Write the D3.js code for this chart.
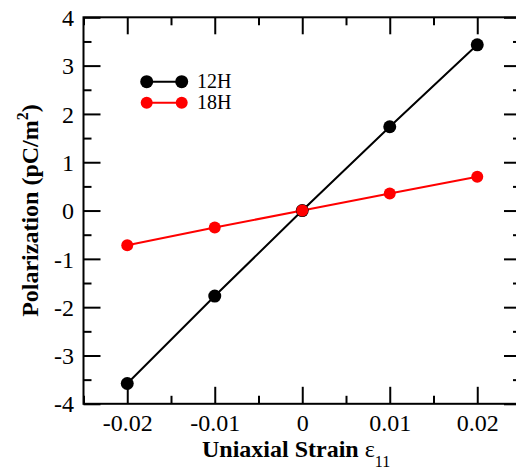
<html><head>
<script src="https://d3js.org/d3.v7.min.js"></script>
<style>
  body { margin: 0; background: #fff; }
  svg { font-family: "Liberation Serif", "Times New Roman", serif; }
  .axis .domain { stroke: none; }
  .axis line { stroke: #000; stroke-width: 2; }
  .axis text { font-family: "Liberation Serif", "Times New Roman", serif; font-size: 24px; fill: #000; }
</style>
</head>
<body>
<svg id="chart" width="516" height="470"></svg>
<script>
// data
const strain = [-0.02, -0.01, 0, 0.01, 0.02];
const pol12H = [-3.58, -1.77, 0, 1.735, 3.43];
const pol18H = [-0.72, -0.35, 0, 0.355, 0.70];
const seriesNames = ["12H", "18H"];
const seriesColors = ["#000000", "#ff0000"];
const xTicks = [-0.02, -0.01, 0, 0.01, 0.02];
const xMinor = [-0.025, -0.015, -0.005, 0.005, 0.015, 0.025];
const yTicks = [-4, -3, -2, -1, 0, 1, 2, 3, 4];
const yMinor = [-3.5, -2.5, -1.5, -0.5, 0.5, 1.5, 2.5, 3.5];

const svg = d3.select("#chart");
const margins = {"top": 17.3, "left": 83.5};
const chartWidth = 437.5;
const chartHeight = 386.5;

const x = d3.scaleLinear().domain([-0.025, 0.025]).range([0, chartWidth]);
const y = d3.scaleLinear().domain([-4, 4]).range([chartHeight, 0]);

let g = svg.append("g").attr("transform", "translate(" + margins.left + "," + margins.top + ")");

const fmtX = d => d == 0 ? "0" : d3.format(".2f")(d).replace("−", "-");
const fmtY = d => String(d);

// bottom axis with labels
let xAxisG = g.append("g").attr("class", "axis")
  .attr("transform", "translate(0," + chartHeight + ")")
  .call(d3.axisBottom(x).tickValues(xTicks).tickSize(-17).tickFormat(fmtX));
xAxisG.selectAll("text").attr("y", 0).attr("dy", 27);
g.append("g").attr("class", "axis")
  .attr("transform", "translate(0," + chartHeight + ")")
  .call(d3.axisBottom(x).tickValues(xMinor).tickSize(-8).tickFormat(""));
// top axis
g.append("g").attr("class", "axis")
  .call(d3.axisTop(x).tickValues(xTicks).tickSize(-17).tickFormat(""));
g.append("g").attr("class", "axis")
  .call(d3.axisTop(x).tickValues(xMinor).tickSize(-8).tickFormat(""));

// left axis with labels
let yAxisG = g.append("g").attr("class", "axis")
  .call(d3.axisLeft(y).tickValues(yTicks).tickSize(-17).tickFormat(fmtY));
yAxisG.selectAll("text").attr("x", -9.5).attr("dy", "0.34em");
g.append("g").attr("class", "axis")
  .call(d3.axisLeft(y).tickValues(yMinor).tickSize(-8).tickFormat(""));
// right axis
g.append("g").attr("class", "axis")
  .attr("transform", "translate(" + chartWidth + ",0)")
  .call(d3.axisRight(y).tickValues(yTicks).tickSize(-17).tickFormat(""));
g.append("g").attr("class", "axis")
  .attr("transform", "translate(" + chartWidth + ",0)")
  .call(d3.axisRight(y).tickValues(yMinor).tickSize(-8).tickFormat(""));

// frame
g.append("rect").attr("x", 0).attr("y", 0).attr("width", chartWidth).attr("height", chartHeight)
  .attr("fill", "none").attr("stroke", "#000").attr("stroke-width", 2);

// series
const series = [pol12H, pol18H];
const line = d3.line().x(d => x(d[0])).y(d => y(d[1]));
series.forEach((vals, i) => {
  const pts = strain.map((s, j) => [s, vals[j]]);
  g.append("path").datum(pts)
    .attr("d", line).attr("fill", "none")
    .attr("stroke", seriesColors[i]).attr("stroke-width", 2);
});
series.forEach((vals, i) => {
  const pts = strain.map((s, j) => [s, vals[j]]);
  g.selectAll(null).data(pts).enter().append("circle")
    .attr("cx", d => x(d[0])).attr("cy", d => y(d[1]))
    .attr("r", i == 0 ? 6.5 : 6).attr("fill", seriesColors[i]);
});

// legend
seriesNames.forEach((name, i) => {
  const ly = 81.7 + i * 21;
  const lg = svg.append("g");
  lg.append("line").attr("x1", 146.7).attr("x2", 181.7).attr("y1", ly).attr("y2", ly)
    .attr("stroke", seriesColors[i]).attr("stroke-width", 2);
  [146.7, 181.7].forEach(cx => {
    lg.append("circle").attr("cx", cx).attr("cy", ly).attr("r", i == 0 ? 6.5 : 6).attr("fill", seriesColors[i]);
  });
  lg.append("text").attr("x", 197).attr("y", ly + 6.5)
    .style("font-size", "20px").text(name);
});

// axis titles
const xt = svg.append("text").attr("x", 202).attr("y", 457)
  .style("font-size", "24px").style("font-weight", "bold");
xt.append("tspan").text("Uniaxial Strain ");
xt.append("tspan").style("font-weight", "normal").text("ε");
xt.append("tspan").attr("dy", 10).style("font-size", "16px").style("font-weight", "normal").text("11");

const yt = svg.append("text")
  .attr("transform", "translate(38," + (margins.top + chartHeight / 2) + ") rotate(-90)")
  .attr("text-anchor", "middle")
  .style("font-size", "24px").style("font-weight", "bold");
yt.append("tspan").text("Polarization (pC/m");
yt.append("tspan").attr("dy", -10).style("font-size", "16px").text("2");
yt.append("tspan").attr("dy", 10).text(")");
</script>
</body>
</html>
